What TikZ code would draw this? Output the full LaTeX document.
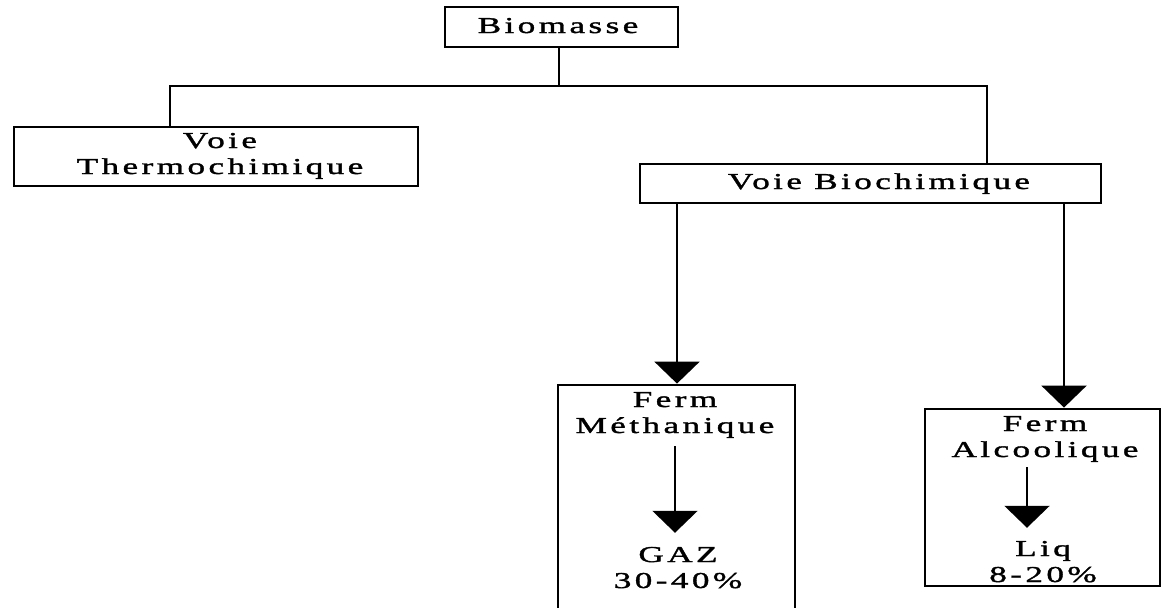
\documentclass[tikz,border=0pt]{standalone}
\usepackage{fontspec}
\setmainfont{Liberation Serif}[LetterSpace=15,FakeStretch=1.55,FakeBold=1.5]
\usetikzlibrary{arrows.meta,calc}
\begin{document}
\begin{tikzpicture}[x=1pt,y=-1pt,
  box/.style={draw, line width=2.8pt, inner sep=0pt},
  txt/.style={font=\fontsize{22.7}{26}\selectfont, align=center, inner sep=0pt, anchor=base},
  link/.style={line width=2.6pt},
  arr/.style={line width=2.4pt, -{Triangle[width=45pt,length=22pt]}}]
\useasboundingbox (0,0) rectangle (1163,608);
\fill[white] (0,0) rectangle (1163,608);
\clip (0,0) rectangle (1163,608);
% boxes
\node[box, minimum width=233pt, minimum height=40pt] (bio) at (561.5,27) {};
\node[box, minimum width=404pt, minimum height=59pt] (thermo) at (216,156.5) {};
\node[box, minimum width=461pt, minimum height=39pt] (bioch) at (870.5,183.5) {};
\node[box, minimum width=237pt, minimum height=240pt] (meth) at (676.5,505) {};
\node[box, minimum width=235pt, minimum height=177pt] (alc) at (1042.5,497.5) {};
% texts
\node[txt] (biot) at (558,33) {Biomasse};
\node[txt] (thermot) at (220,174) {Voie\\Thermochimique};
\node[txt] (biocht) at (879,189) {Voie Biochimique};
\node[txt] (metht) at (675,433) {Ferm\\Méthanique};
\node[txt] (gaz) at (678,588) {GAZ\\30-40\%};
\node[txt] (alct) at (1045,457) {Ferm\\Alcoolique};
\node[txt] (liq) at (1043,582) {Liq\\8-20\%};
% connectors
\coordinate (j) at (559,86);
\draw[link] (bio.south -| j) -- (j);
\draw[link] (thermo.north -| 170,0) |- (j) -| (bioch.north -| 987,0);
\draw[arr] (bioch.south -| 677,0) -- (meth.north -| 677,0);
\draw[arr] (bioch.south -| 1064,0) -- (alc.north -| 1064,0);
\draw[arr] ($(metht.south -| 675,0)+(0,8)$) -- ($(gaz.north -| 675,0)+(0,-14)$);
\draw[arr] ($(alct.south -| 1027,0)+(0,5)$) -- ($(liq.north -| 1027,0)+(0,-13)$);
\end{tikzpicture}
\end{document}
